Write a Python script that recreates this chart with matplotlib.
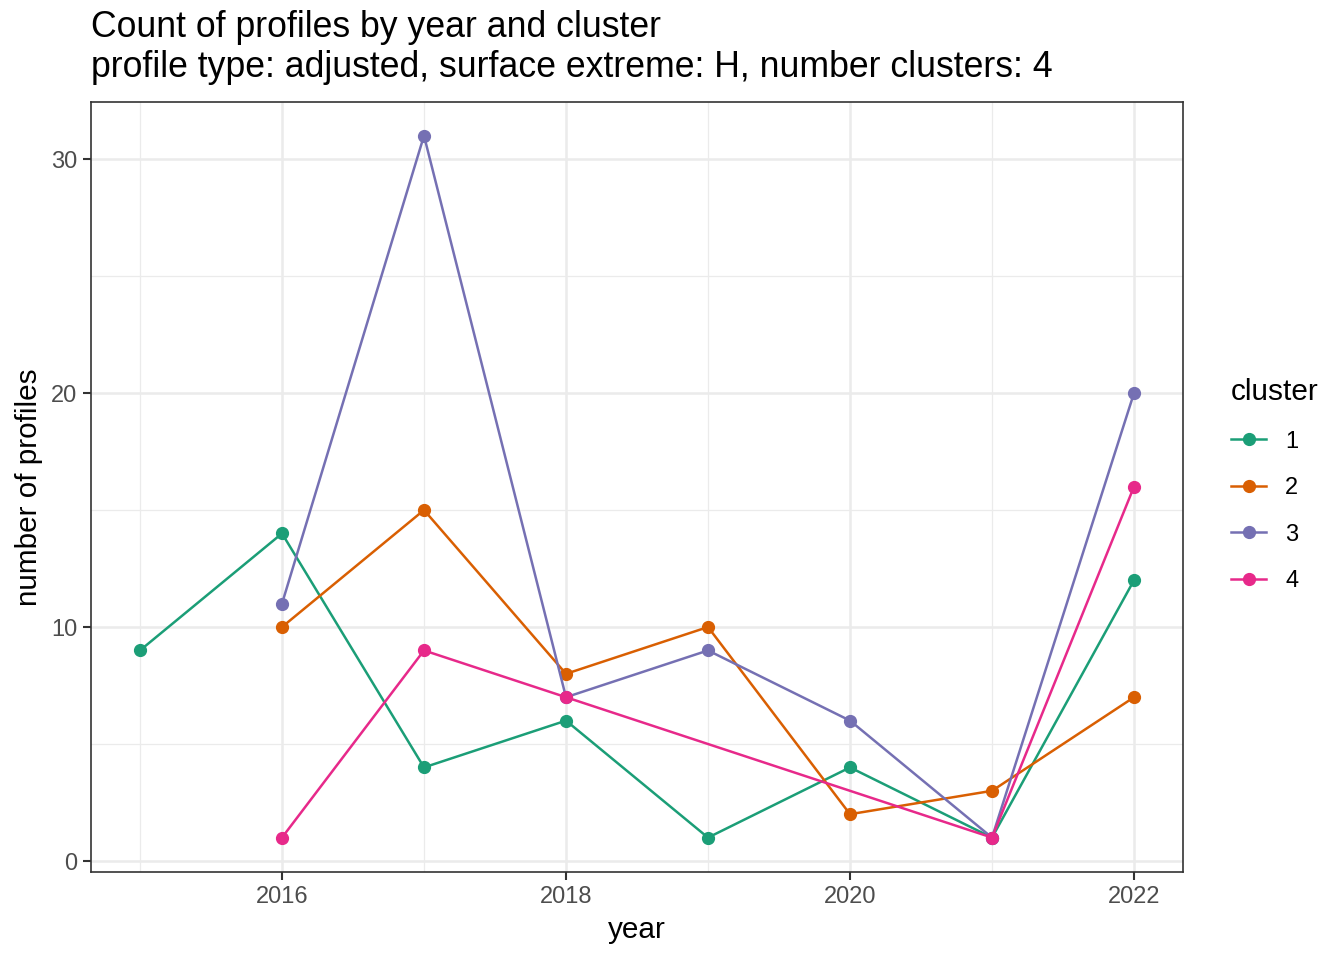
import numpy as np
import matplotlib
matplotlib.use('Agg')
import matplotlib.pyplot as plt

plt.rcParams['font.family'] = ['Liberation Sans', 'DejaVu Sans']

# data (NaN = no profile that year)
years = [2015, 2016, 2017, 2018, 2019, 2020, 2021, 2022]
cluster_1 = [9, 14, 4, 6, 1, 4, 1, 12]
cluster_2 = [np.nan, 10, 15, 8, 10, 2, 3, 7]
cluster_3 = [np.nan, 11, 31, 7, 9, 6, 1, 20]
cluster_4 = [np.nan, 1, 9, 7, np.nan, np.nan, 1, 16]
cluster_names = ['1', '2', '3', '4']
colors = ['#1B9E77', '#D95F02', '#7570B3', '#E7298A']

fig = plt.figure(figsize=(13.44, 9.6), dpi=100)
ax = fig.add_axes([91 / 1344, 88 / 960, 1092 / 1344, 770 / 960])

grid_col = '#EBEBEB'
for v in [5, 15, 25]:
    ax.axhline(v, color=grid_col, lw=0.9, zorder=0)
for v in [0, 10, 20, 30]:
    ax.axhline(v, color=grid_col, lw=1.8, zorder=0)
for v in [2015, 2017, 2019, 2021]:
    ax.axvline(v, color=grid_col, lw=0.9, zorder=0)
for v in [2016, 2018, 2020, 2022]:
    ax.axvline(v, color=grid_col, lw=1.8, zorder=0)

handles = []
for vals, name, col in zip([cluster_1, cluster_2, cluster_3, cluster_4], cluster_names, colors):
    x = np.array(years, dtype=float)
    y = np.array(vals, dtype=float)
    ok = ~np.isnan(y)
    h, = ax.plot(x[ok], y[ok], color=col, lw=1.8, marker='o', markersize=8.5, label=name, zorder=3)
    handles.append(h)

ax.set_xlim(2014.655, 2022.345)
ax.set_ylim(-0.47, 32.44)
ax.set_xticks([2016, 2018, 2020, 2022])
ax.set_yticks([0, 10, 20, 30])
ax.tick_params(labelsize=17, colors='#333333', labelcolor='#4D4D4D', length=6, width=1.5, pad=4)
for s in ax.spines.values():
    s.set_color('#333333')
    s.set_linewidth(1.2)

ax.set_xlabel('year', fontsize=21.4, labelpad=6)
ax.set_ylabel('number of profiles', fontsize=21.4, labelpad=6)

fig.text(91 / 1344, 1 - 10 / 960,
         'Count of profiles by year and cluster\nprofile type: adjusted, surface extreme: H, number clusters: 4',
         fontsize=25.7, ha='left', va='top', linespacing=1.2)

leg = fig.legend(handles=handles, title='cluster', loc='upper left',
                 bbox_to_anchor=(1231 / 1344, 1 - 378 / 960), frameon=False,
                 fontsize=17, title_fontsize=21.4, alignment='left',
                 handlelength=1.5, handletextpad=0.8, labelspacing=1.04,
                 borderpad=0, borderaxespad=0)

plt.savefig('out.png', dpi=100)
